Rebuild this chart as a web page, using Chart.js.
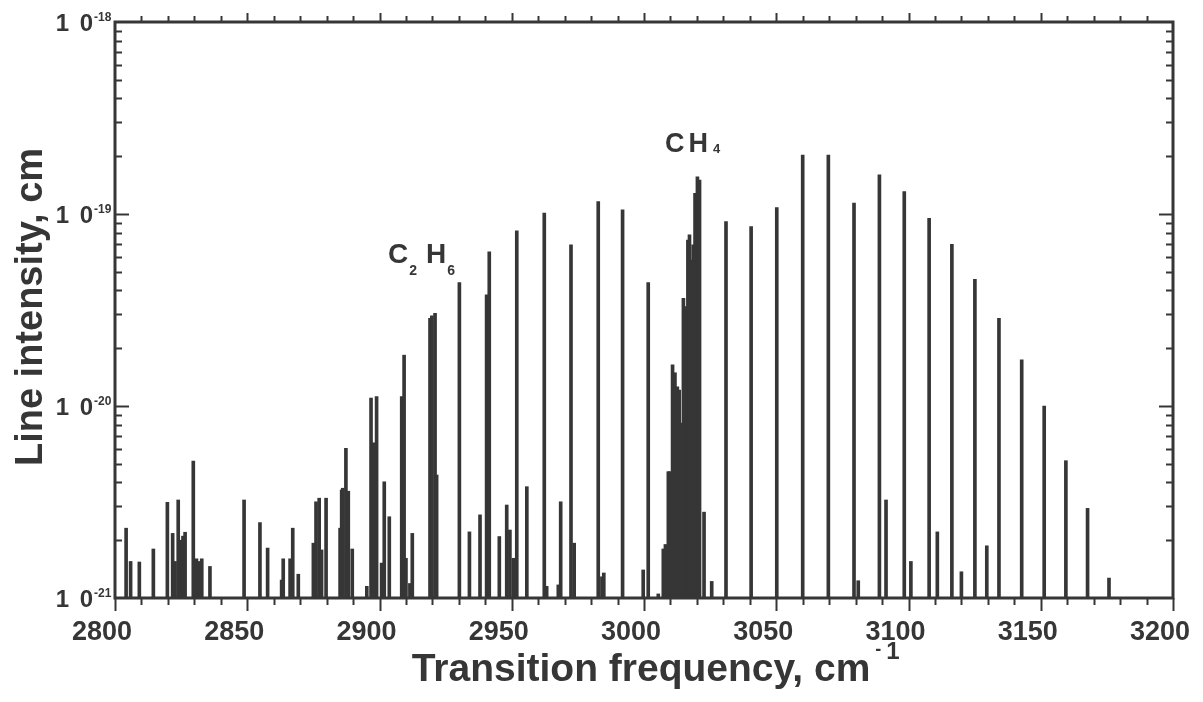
<!DOCTYPE html>
<html>
<head>
<meta charset="utf-8">
<title>Line intensity vs transition frequency</title>
<script src="https://cdn.jsdelivr.net/npm/chart.js@4.4.1/dist/chart.umd.min.js"></script>
<style>
  html, body { margin: 0; padding: 0; background: #fff; }
  #wrap { width: 1203px; height: 702px; }
</style>
</head>
<body>
<div id="wrap"><canvas id="spectrum" width="1203" height="702"></canvas></div>
<script>
// ── Data (cm-1, cm/molecule) ──
const strongFreq = [2896.8, 2898.9, 2908.4, 2909.3, 2919.1, 2919.8, 2921.0, 2930.2, 2940.5, 2941.5,
  2951.9, 2962.3, 2972.4, 2982.7, 2991.9, 3001.6, 3031.0, 3040.5, 3050.2, 3060.0,
  3069.7, 3079.4, 3089.0, 3098.4, 3107.8, 3116.4, 3125.1, 3134.2, 3142.8, 3151.3,
  3159.5, 3167.7, 3175.8];
const strongInt = [1.10e-20, 1.12e-20, 1.12e-20, 1.84e-20, 2.86e-20, 2.95e-20, 3.04e-20, 4.39e-20, 3.79e-20, 6.36e-20,
  8.18e-20, 1.01e-19, 6.90e-20, 1.16e-19, 1.05e-19, 4.39e-20, 9.12e-20, 8.59e-20, 1.08e-19, 2.03e-19,
  2.03e-19, 1.14e-19, 1.60e-19, 1.31e-19, 9.50e-20, 6.96e-20, 4.57e-20, 2.86e-20, 1.74e-20, 1.00e-20,
  5.19e-21, 2.93e-21, 1.27e-21];

// CH4 Q branch, the dense block near 3015
const qBranchFreq = [3005.4, 3007.3, 3008.1, 3009.2, 3009.8, 3010.8, 3011.7, 3012.6, 3013.3, 3014.3,
  3014.9, 3015.9, 3016.6, 3017.2, 3018.0, 3018.6, 3019.3, 3020.2, 3021.0];
const qBranchInt = [1.05e-21, 1.8e-21, 1.9e-21, 4.55e-21, 4.55e-21, 1.64e-20, 1.49e-20, 1.26e-20, 1.21e-20, 8.15e-21,
  3.64e-20, 3.29e-20, 7.32e-20, 7.78e-20, 5.76e-20, 6.90e-20, 1.28e-19, 1.56e-19, 1.50e-19];

// weak lines (mostly C2H6)
const weakFreq = [2804.2, 2805.9, 2809.2, 2814.5, 2819.8, 2821.8, 2822.7, 2823.9, 2825.0, 2825.7,
  2826.5, 2829.6, 2830.8, 2831.8, 2832.8, 2835.9, 2848.8, 2854.8, 2857.7, 2863.0,
  2863.6, 2866.2, 2867.2, 2869.3, 2875.0, 2876.0, 2877.2, 2878.1, 2879.8, 2885.1,
  2885.7, 2886.1, 2887.3, 2888.2, 2889.7, 2895.2, 2897.7, 2900.8, 2901.8, 2903.7,
  2910.0, 2911.5, 2912.4, 2921.6, 2934.0, 2938.0, 2945.3, 2948.1, 2949.3, 2950.6,
  2955.7, 2963.2, 2967.6, 2968.5, 2973.6, 2984.1, 2984.8, 2999.7, 3022.7, 3025.6,
  3081.0, 3091.5, 3100.9, 3110.9, 3120.0, 3129.6];
const weakInt = [2.31e-21, 1.55e-21, 1.54e-21, 1.80e-21, 3.15e-21, 2.17e-21, 1.55e-21, 3.24e-21, 2.00e-21, 2.10e-21,
  2.20e-21, 5.17e-21, 1.60e-21, 1.55e-21, 1.60e-21, 1.46e-21, 3.24e-21, 2.47e-21, 1.82e-21, 1.24e-21,
  1.60e-21, 1.60e-21, 2.31e-21, 1.33e-21, 1.93e-21, 3.17e-21, 3.31e-21, 1.78e-21, 3.31e-21, 2.31e-21,
  3.65e-21, 3.73e-21, 6.02e-21, 3.60e-21, 1.80e-21, 1.15e-21, 6.42e-21, 1.52e-21, 4.03e-21, 2.65e-21,
  1.61e-21, 1.19e-21, 2.17e-21, 4.37e-21, 2.21e-21, 2.71e-21, 2.09e-21, 3.05e-21, 2.26e-21, 1.61e-21,
  3.80e-21, 1.15e-21, 1.17e-21, 3.17e-21, 1.93e-21, 1.29e-21, 1.35e-21, 1.40e-21, 2.80e-21, 1.22e-21,
  1.23e-21, 3.24e-21, 1.55e-21, 2.21e-21, 1.37e-21, 1.87e-21];

const xTicks = [2800, 2850, 2900, 2950, 3000, 3050, 3100, 3150, 3200];
const decades = [-21, -20, -19, -18];
const BASE = 1e-21;

const INK = "#363636";
const FONT = "'Liberation Sans', Arial, Helvetica, sans-serif";

// each line is a floating bar from the bottom of the axis up to its intensity
function sticks(freqs, ints) {
  return freqs.map((f, i) => ({ x: f, y: [BASE, ints[i]] }));
}

function lineDataset(data) {
  return {
    data: data,
    backgroundColor: INK,
    borderWidth: 0,
    barThickness: 3,
    grouped: false,
  };
}

// ── Frame, inward/outward ticks, y labels, titles, molecule labels ──
const decorations = {
  id: "decorations",
  afterDatasetsDraw(chart) {
    const { ctx, chartArea: a, scales } = chart;
    const x = scales.x;
    const y = scales.y;

    function seg(x1, y1, x2, y2) {
      ctx.beginPath();
      ctx.moveTo(x1, y1);
      ctx.lineTo(x2, y2);
      ctx.stroke();
    }

    ctx.save();
    ctx.strokeStyle = INK;
    ctx.fillStyle = INK;

    // x ticks: bottom ones point down, top ones point up
    ctx.lineWidth = 2;
    for (let f = 2800; f <= 3200; f += 10) {
      const px = Math.round(x.getPixelForValue(f)) + 0.5;
      const major = f % 50 === 0;
      seg(px, a.bottom, px, a.bottom + (major ? 13 : 7));
      if (f > 2800 && f < 3200) seg(px, a.top, px, a.top - (major ? 9 : 6));
    }

    // y ticks: both sides point into the plot
    for (let e = -21; e < -18; e++) {
      for (let m = 1; m <= 9; m++) {
        if (e === -21 && m === 1) continue;
        const py = Math.round(y.getPixelForValue(m * Math.pow(10, e))) + 0.5;
        const len = m === 1 ? 14 : 7;
        seg(a.left, py, a.left + len, py);
        seg(a.right, py, a.right - len, py);
      }
    }

    // frame
    ctx.lineWidth = 3;
    ctx.strokeRect(a.left, a.top, a.right - a.left, a.bottom - a.top);

    // y tick labels, "1 0" with a superscript exponent
    decades.forEach((e) => {
      const py = y.getPixelForValue(Math.pow(10, e));
      ctx.font = "bold 24px " + FONT;
      ctx.textAlign = "right";
      ctx.textBaseline = "alphabetic";
      ctx.fillText("1", a.left - 46, py + 9);
      ctx.fillText("0", a.left - 22, py + 9);
      ctx.font = "bold 12px " + FONT;
      ctx.textAlign = "left";
      ctx.fillText(String(e), a.left - 21, py - 1);
    });

    // x title with superscript
    ctx.font = "bold 39px " + FONT;
    ctx.textAlign = "left";
    const xt = "Transition frequency, cm";
    const xw = ctx.measureText(xt).width;
    const x0 = (a.left + a.right) / 2 - xw / 2 - 3;
    ctx.fillText(xt, x0, 681);
    ctx.font = "bold 18px " + FONT;
    ctx.fillText("-", x0 + xw + 5, 655);
    ctx.font = "bold 24px " + FONT;
    ctx.fillText("1", x0 + xw + 16, 659);

    // y title
    ctx.save();
    ctx.translate(42, (a.top + a.bottom) / 2 - 3);
    ctx.rotate(-Math.PI / 2);
    ctx.textAlign = "center";
    ctx.font = "bold 38px " + FONT;
    ctx.fillText("Line intensity, cm", 0, 0);
    ctx.restore();

    // molecule labels
    let lx = x.getPixelForValue(2903.2);
    let ly = y.getPixelForValue(5.56e-20);
    ctx.font = "bold 28px " + FONT;
    ctx.fillText("C", lx, ly);
    lx += ctx.measureText("C").width + 1;
    ctx.font = "bold 14px " + FONT;
    ctx.fillText("2", lx, ly + 12);
    lx += ctx.measureText("2").width + 9;
    ctx.font = "bold 28px " + FONT;
    ctx.fillText("H", lx, ly);
    lx += ctx.measureText("H").width + 1;
    ctx.font = "bold 14px " + FONT;
    ctx.fillText("6", lx, ly + 12);

    lx = x.getPixelForValue(3007.9);
    ly = y.getPixelForValue(2.1e-19);
    ctx.font = "bold 27px " + FONT;
    ctx.fillText("C", lx, ly);
    lx += ctx.measureText("C").width + 4;
    ctx.fillText("H", lx, ly);
    lx += ctx.measureText("H").width + 5;
    ctx.font = "bold 13px " + FONT;
    ctx.fillText("4", lx, ly + 1);

    ctx.restore();
  },
};

const chart = new Chart(document.getElementById("spectrum"), {
  type: "bar",
  data: {
    datasets: [
      lineDataset(sticks(weakFreq, weakInt)),
      lineDataset(sticks(strongFreq, strongInt)),
      lineDataset(sticks(qBranchFreq, qBranchInt)),
    ],
  },
  options: {
    responsive: false,
    animation: false,
    devicePixelRatio: 1,
    layout: { padding: { left: 0, right: 30, top: 22, bottom: 0 } },
    plugins: {
      legend: { display: false },
      tooltip: { enabled: false },
    },
    scales: {
      x: {
        type: "linear",
        min: 2800,
        max: 3200,
        offset: false,
        grid: { display: false, drawTicks: false },
        border: { display: false },
        ticks: {
          color: INK,
          font: { family: FONT, size: 27, weight: "bold" },
          padding: 18,
          labelOffset: -13,
          maxRotation: 0,
          autoSkip: false,
          callback: (v) => String(v),
        },
        afterBuildTicks: (s) => {
          s.ticks = xTicks.map((v) => ({ value: v }));
        },
        afterFit: (s) => {
          s.height = 104;
          s.paddingLeft = 0;
          s.paddingRight = 0;
        },
      },
      y: {
        type: "logarithmic",
        min: 1e-21,
        max: 1e-18,
        grid: { display: false },
        border: { display: false },
        ticks: { display: false },
        afterFit: (s) => {
          s.width = 115;
          s.paddingTop = 0;
          s.paddingBottom = 0;
        },
      },
    },
  },
  plugins: [decorations],
});
</script>
</body>
</html>
